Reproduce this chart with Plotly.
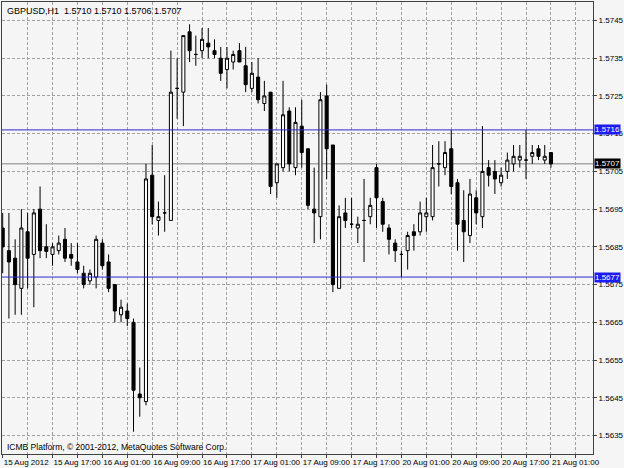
import plotly.graph_objects as go

# ---- data (GBPUSD H1) ----
opens = [1.5690, 1.5684, 1.5682, 1.5674, 1.5689, 1.5683, 1.5695, 1.5685, 1.5683, 1.5684,
         1.5687, 1.5683, 1.5681, 1.5678, 1.5676, 1.5677, 1.5686, 1.5681, 1.5675, 1.5667,
         1.5668, 1.5665, 1.5646, 1.5644, 1.5704, 1.5692, 1.5694, 1.5692, 1.5727, 1.5726,
         1.5742, 1.5736, 1.5737, 1.5739, 1.5737, 1.5735, 1.5732, 1.5734, 1.5737, 1.5733,
         1.5727, 1.5730, 1.5723, 1.5726, 1.5702, 1.5706, 1.5721, 1.5706, 1.5717, 1.5711,
         1.5695, 1.5693, 1.5725, 1.5712, 1.5674, 1.5694, 1.5691, 1.5690, 1.5692, 1.5693,
         1.5706, 1.5697, 1.5690, 1.5686, 1.5683, 1.5684, 1.5689, 1.5689, 1.5693, 1.5693,
         1.5707, 1.5706, 1.5711, 1.5702, 1.5692, 1.5688, 1.5698, 1.5693, 1.5706, 1.5705,
         1.5702, 1.5705, 1.5707, 1.5708, 1.5708, 1.5709, 1.5711, 1.5708, 1.5710]
highs = [1.5694, 1.5694, 1.5687, 1.5695, 1.5694, 1.5695, 1.5701, 1.5691, 1.5686, 1.5688,
         1.5690, 1.5686, 1.5686, 1.5680, 1.5679, 1.5688, 1.5687, 1.5683, 1.5675, 1.5671,
         1.5670, 1.5666, 1.5653, 1.5707, 1.5712, 1.5697, 1.5704, 1.5737, 1.5735, 1.5741,
         1.5744, 1.5741, 1.5743, 1.5743, 1.5740, 1.5738, 1.5738, 1.5737, 1.5739, 1.5738,
         1.5734, 1.5735, 1.5729, 1.5726, 1.5707, 1.5729, 1.5722, 1.5722, 1.5724, 1.5711,
         1.5706, 1.5726, 1.5728, 1.5712, 1.5696, 1.5698, 1.5698, 1.5693, 1.5703, 1.5698,
         1.5707, 1.5698, 1.5691, 1.5687, 1.5684, 1.5689, 1.5691, 1.5697, 1.5698, 1.5712,
         1.5713, 1.5713, 1.5716, 1.5703, 1.5700, 1.5703, 1.5700, 1.5717, 1.5708, 1.5708,
         1.5706, 1.5710, 1.5712, 1.5712, 1.5716, 1.5712, 1.5712, 1.5712, 1.5710]
lows = [1.5678, 1.5666, 1.5667, 1.5667, 1.5674, 1.5669, 1.5682, 1.5682, 1.5680, 1.5683,
        1.5681, 1.5680, 1.5678, 1.5674, 1.5675, 1.5674, 1.5679, 1.5673, 1.5665, 1.5665,
        1.5664, 1.5636, 1.5640, 1.5643, 1.5691, 1.5688, 1.5689, 1.5692, 1.5719, 1.5717,
        1.5734, 1.5733, 1.5735, 1.5735, 1.5735, 1.5729, 1.5727, 1.5732, 1.5734, 1.5726,
        1.5726, 1.5723, 1.5721, 1.5699, 1.5698, 1.5705, 1.5705, 1.5704, 1.5706, 1.5695,
        1.5686, 1.5687, 1.5703, 1.5673, 1.5674, 1.5690, 1.5690, 1.5686, 1.5681, 1.5691,
        1.5690, 1.5689, 1.5683, 1.5681, 1.5677, 1.5679, 1.5684, 1.5688, 1.5689, 1.5692,
        1.5701, 1.5704, 1.5699, 1.5684, 1.5681, 1.5686, 1.5691, 1.5690, 1.5701, 1.5699,
        1.5701, 1.5703, 1.5705, 1.5706, 1.5703, 1.5707, 1.5708, 1.5707, 1.5706]
closes = [1.5685, 1.5681, 1.5675, 1.5690, 1.5682, 1.5694, 1.5684, 1.56838, 1.5685, 1.5686,
          1.5682, 1.5682, 1.5679, 1.5675, 1.5678, 1.5687, 1.5680, 1.5674, 1.5668, 1.5669,
          1.5666, 1.5647, 1.5645, 1.5703, 1.5693, 1.5693, 1.5694, 1.5726, 1.5727, 1.5741,
          1.5737, 1.5736, 1.5740, 1.5738, 1.5736, 1.5731, 1.5735, 1.5736, 1.5734, 1.5728,
          1.5731, 1.5724, 1.5725, 1.5701, 1.5707, 1.5720, 1.5707, 1.5718, 1.5710, 1.5696,
          1.5694, 1.5724, 1.5711, 1.5675, 1.5693, 1.5692, 1.5691, 1.5691, 1.5692, 1.5696,
          1.5698, 1.5691, 1.5687, 1.5684, 1.5683, 1.5688, 1.5688, 1.5694, 1.5694, 1.5706,
          1.5707, 1.5710, 1.5701, 1.5691, 1.5689, 1.5699, 1.5694, 1.5705, 1.5704, 1.5703,
          1.5704, 1.5708, 1.5709, 1.5709, 1.5708, 1.5710, 1.5709, 1.5709, 1.5707]

time_labels = ["15 Aug 2012", "15 Aug 17:00", "16 Aug 01:00", "16 Aug 09:00",
               "16 Aug 17:00", "17 Aug 01:00", "17 Aug 09:00", "17 Aug 17:00",
               "20 Aug 01:00", "20 Aug 09:00", "20 Aug 17:00", "21 Aug 01:00"]
bars_per_label = 8
price_ticks = [1.5635, 1.5645, 1.5655, 1.5665, 1.5675, 1.5685, 1.5695,
               1.5705, 1.5715, 1.5725, 1.5735, 1.5745]
blue_levels = [1.5716, 1.5677]
bid_level = 1.5707
title_text = "GBPUSD,H1  1.5710 1.5710 1.5706 1.5707"
copyright_text = "ICMB Platform, \u00a9 2001-2012, MetaQuotes Software Corp."

BG = "#F5F5F5"
FONT = "Liberation Sans"

n = len(opens)
xs = list(range(n))

fig = go.Figure()
fig.add_trace(go.Candlestick(
    x=xs, open=opens, high=highs, low=lows, close=closes,
    increasing=dict(line=dict(color="black", width=1), fillcolor="white"),
    decreasing=dict(line=dict(color="black", width=1), fillcolor="black"),
    whiskerwidth=0, showlegend=False, hoverinfo="skip"))

# tick positions: grid every 4 bars, labels every 8
tickvals = list(range(0, 96, 4))
ticktext = []
for v in tickvals:
    if v % bars_per_label == 0 and v // bars_per_label < len(time_labels):
        ticktext.append(time_labels[v // bars_per_label])
    else:
        ticktext.append("")

shapes = []
for lv in blue_levels:
    shapes.append(dict(type="line", xref="paper", x0=0, x1=1, yref="y", y0=lv, y1=lv,
                       line=dict(color="#2B2BD0", width=1), layer="above"))
shapes.append(dict(type="line", xref="paper", x0=0, x1=1, yref="y", y0=bid_level, y1=bid_level,
                   line=dict(color="#A8A8A8", width=1.5), layer="below"))

annotations = [
    dict(text=title_text, xref="paper", yref="paper", x=0, y=1, xanchor="left", yanchor="top",
         xshift=3, yshift=-2, showarrow=False, font=dict(family=FONT, size=9, color="black")),
    dict(text=copyright_text, xref="paper", yref="paper", x=0, y=0, xanchor="left", yanchor="bottom",
         xshift=3, yshift=0, showarrow=False, font=dict(family=FONT, size=8.5, color="black")),
]
for lv in blue_levels:
    annotations.append(dict(text=f"{lv:.4f}", xref="paper", yref="y", x=1, y=lv,
                            xanchor="left", yanchor="middle", xshift=1, showarrow=False,
                            bgcolor="#1C1CF0", borderpad=0,
                            font=dict(family=FONT, size=8, color="white")))
annotations.append(dict(text=f"{bid_level:.4f}", xref="paper", yref="y", x=1, y=bid_level,
                        xanchor="left", yanchor="middle", xshift=1, showarrow=False,
                        bgcolor="black", borderpad=0,
                        font=dict(family=FONT, size=8, color="white")))

fig.update_layout(
    width=624, height=468,
    margin=dict(l=2, r=31, t=2, b=14),
    paper_bgcolor=BG, plot_bgcolor=BG,
    showlegend=False,
    shapes=shapes, annotations=annotations,
    xaxis=dict(range=[-0.11, 94.75], tickvals=tickvals, ticktext=ticktext,
               ticklabelposition="outside right", tickangle=0, ticks="outside", ticklen=3,
               tickcolor="#404040", showgrid=True, gridcolor="#A0A0A0", griddash="3px,2px",
               gridwidth=1, zeroline=False, showline=True, linecolor="#404040", linewidth=1,
               mirror=True, rangeslider=dict(visible=False), automargin=False,
               tickfont=dict(family=FONT, size=8, color="black")),
    yaxis=dict(range=[1.56301, 1.57499], side="right", tickvals=price_ticks,
               tickformat=".4f", ticks="outside", ticklen=3, tickcolor="#404040",
               showgrid=True, gridcolor="#A0A0A0", griddash="3px,2px", gridwidth=1,
               zeroline=False, showline=True, linecolor="#404040", linewidth=1, mirror=True,
               automargin=False, tickfont=dict(family=FONT, size=8, color="black")),
)

fig.write_html("out.html", config={"displayModeBar": False},
               post_script="document.body.style.margin='0';document.body.style.background='" + BG + "';")
